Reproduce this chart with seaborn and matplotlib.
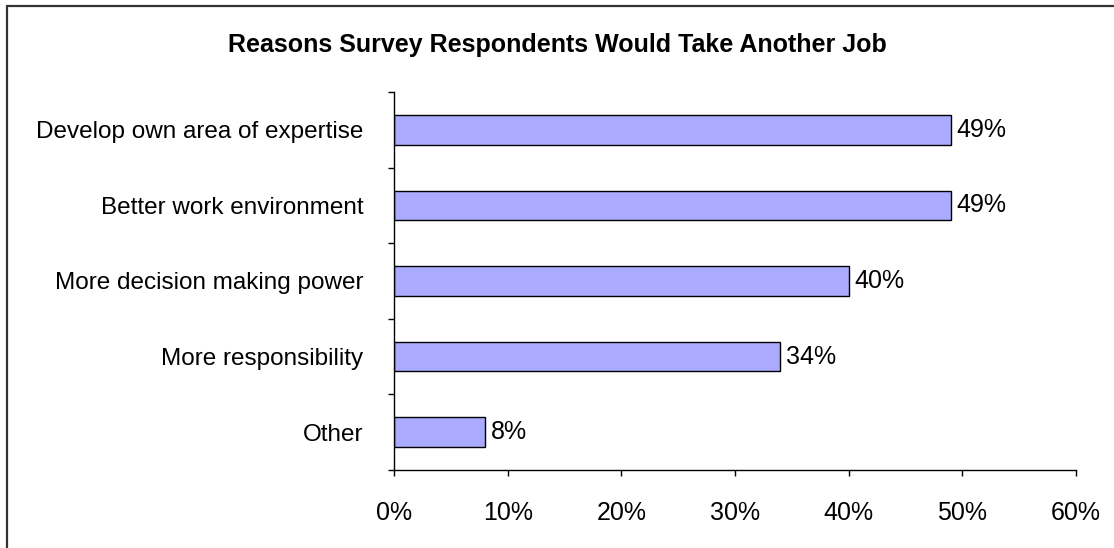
import matplotlib
matplotlib.use("Agg")
import matplotlib.pyplot as plt
from matplotlib.lines import Line2D
from matplotlib.ticker import FixedLocator, PercentFormatter
import seaborn as sns
import pandas as pd

categories = ["Develop own area of expertise", "Better work environment",
              "More decision making power", "More responsibility", "Other"]
values = [49, 49, 40, 34, 8]
xticks = [0, 10, 20, 30, 40, 50, 60]
title = "Reasons Survey Respondents Would Take Another Job"

sns.set_theme(style="white")
plt.rcParams['font.family'] = ['Liberation Sans', 'DejaVu Sans']
plt.rcParams['text.color'] = 'black'
plt.rcParams['xtick.color'] = 'black'
plt.rcParams['ytick.color'] = 'black'

df = pd.DataFrame({"reason": categories, "pct": values})

W, H = 1114, 548
fig = plt.figure(figsize=(W / 100, H / 100), dpi=100)
ax = fig.add_axes([394 / W, 1 - 470 / H, (1076 - 394) / W, (470 - 92) / H])

sns.barplot(data=df, y="reason", x="pct", orient="h", ax=ax,
            color="#AAAAFF", saturation=1, width=0.39,
            edgecolor="black", linewidth=1.0)

ax.set_xlim(0, 60)
ax.set_ylim(len(categories) - 0.5, -0.5)
ax.set_xticks(xticks)
ax.xaxis.set_major_formatter(PercentFormatter(decimals=0))
ax.set_xlabel("")
ax.set_ylabel("")

for s in ["top", "right"]:
    ax.spines[s].set_visible(False)
for s in ["left", "bottom"]:
    ax.spines[s].set_color("black")
    ax.spines[s].set_linewidth(1.0)

ax.tick_params(axis="x", which="major", direction="out", length=4.5, width=1,
               color="black", labelsize=18, pad=18, bottom=True)
ax.tick_params(axis="y", which="major", length=0, labelsize=17.5, pad=22, left=False)
ax.yaxis.set_minor_locator(FixedLocator([i - 0.5 for i in range(len(categories) + 1)]))
ax.tick_params(axis="y", which="minor", direction="out", length=4.5, width=1,
               color="black", left=True)

for c in ax.containers:
    ax.bar_label(c, labels=[f"{v}%" for v in values], padding=4, fontsize=18)

fig.text(0.5, 1 - 45 / H, title, ha="center", va="center",
         fontsize=18, fontweight="bold")

# outer chart frame (top and left visible)
fig.add_artist(Line2D([6.5 / W, 1.0], [1 - 5.5 / H, 1 - 5.5 / H],
                      transform=fig.transFigure, color="#333333", linewidth=1.6))
fig.add_artist(Line2D([6.5 / W, 6.5 / W], [0.0, 1 - 5.5 / H],
                      transform=fig.transFigure, color="#333333", linewidth=1.6))

fig.savefig("out.png", dpi=100)
